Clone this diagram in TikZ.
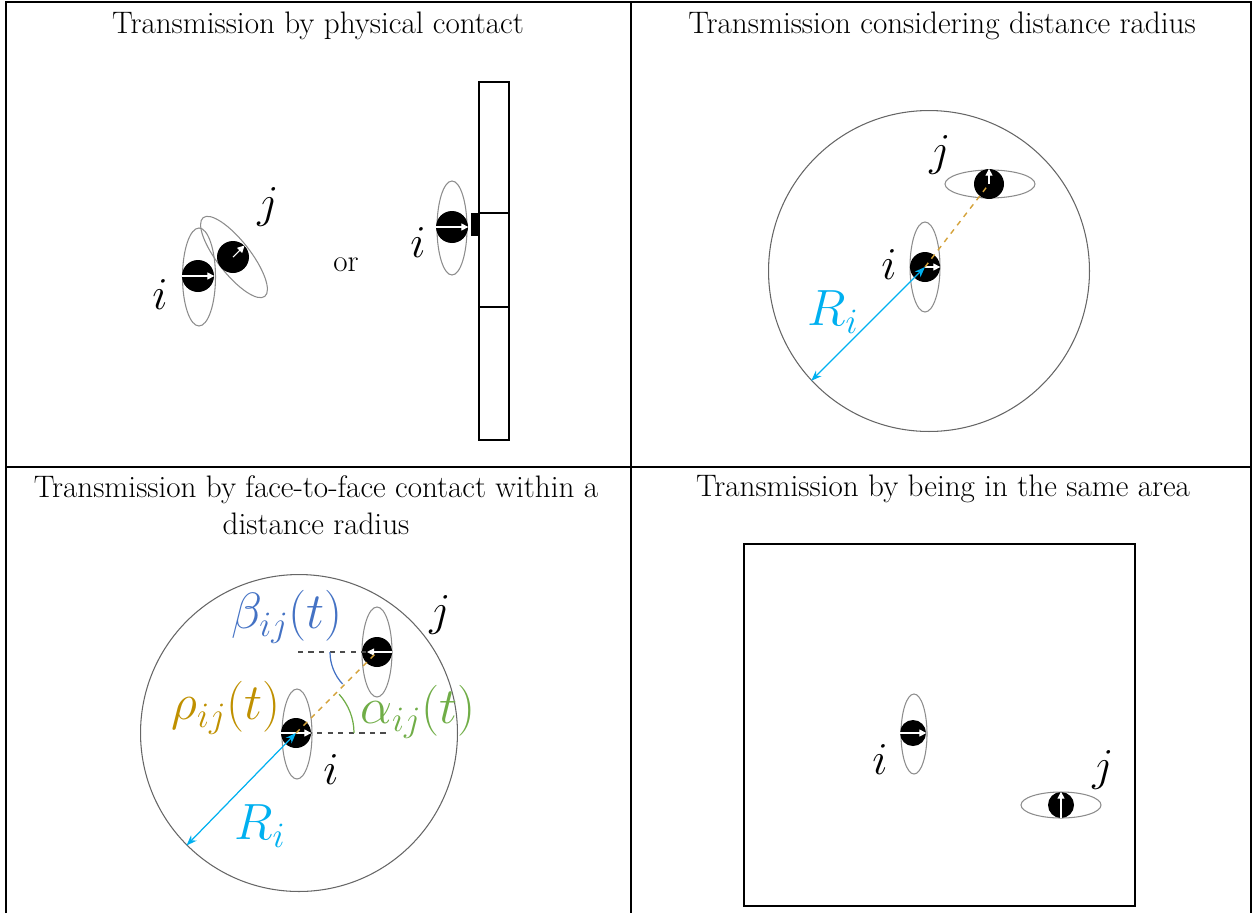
\RequirePackage{fix-cm}
\documentclass[tikz,border=0pt]{standalone}
\usepackage{amsmath}
\usepackage{tikz}
\usetikzlibrary{arrows.meta, shapes.geometric, positioning, calc}
\definecolor{radcyan}{HTML}{00B0F0}
\definecolor{linkgold}{HTML}{D4A23A}
\definecolor{betablue}{HTML}{4472C4}
\definecolor{alphagreen}{HTML}{70AD47}
\definecolor{rhogold}{HTML}{BF9000}
\tikzset{
  panelrule/.style={line width=1.6pt, black},
  paneltitle/.style={font=\fontsize{17.7}{21}\selectfont, align=center, inner sep=0pt},
  fov/.style={
    ellipse, draw=gray!90, line width=0.6pt,
    minimum width=#1, inner sep=0pt
  },
  body/.style={
    circle, fill=black, minimum size=#1, inner sep=0pt
  },
  heading/.style={draw=white, line width=0.6pt, -{Triangle[length=4pt,width=4pt]}},
  agentlabel/.style={font=\fontsize{26}{30}\selectfont, inner sep=0pt},
  anglelabel/.style={font=\fontsize{29}{33}\selectfont, inner sep=0pt},
  zone/.style={circle, draw=gray!80!black, line width=0.6pt, inner sep=0pt},
  radiusline/.style={radcyan, line width=0.7pt, {Stealth[length=6pt]}-{Stealth[length=6pt]}},
  link/.style={linkgold, dashed, line width=0.8pt},
  refline/.style={gray!60!black, dashed, line width=0.7pt},
}

\begin{document}
\begin{tikzpicture}[x=0.02cm, y=-0.02cm]
  \useasboundingbox (0,0) rectangle (1253,913);

  % table
  \coordinate (tl) at (6,2);
  \coordinate (tr) at (1251,2);
  \coordinate (ml) at (6,467);
  \coordinate (mr) at (1251,467);
  \coordinate (tm) at (631,2);
  \coordinate (bm) at (631,913);
  \coordinate (bl) at (6,913);
  \coordinate (br) at (1251,913);
  \draw[panelrule] (bl) -- (tl) -- (tr) -- (br);
  \draw[panelrule] (ml) -- (mr);
  \draw[panelrule] (tm) -- (bm);

  \node[paneltitle] (title1) at (318,26) {Transmission by physical contact};
  \node[paneltitle] (title2) at (942,26) {Transmission considering distance radius};
  \node[paneltitle] (title3) at (316,505) {Transmission by face-to-face contact within a\\distance radius};
  \node[paneltitle] (title4) at (943,489) {Transmission by being in the same area};

  % panel 1: physical contact
  \node[fov, minimum width=0.66cm, minimum height=1.96cm] (fovA) at (199,277) {};
  \node[fov, minimum width=0.66cm, minimum height=2.0cm, rotate=38] (fovB) at (234,257) {};
  \node[body=0.64cm] (iA) at (198,276) {};
  \node[body=0.64cm] (jA) at (233,257) {};
  \draw[heading] (iA.west) -- (iA.east);
  \draw[heading] (jA.center) -- (jA.45);
  \node[agentlabel] (liA) at (160,295) {$i$};
  \node[agentlabel] (ljA) at (268,207) {$j$};
  \node[font=\fontsize{17.7}{21}\selectfont] (or) at (346,265) {or};

  \node[draw, line width=0.7pt, minimum width=0.6cm, minimum height=7.16cm, inner sep=0pt] (wall) at (494,261) {};
  \draw[line width=0.7pt] ($(wall.west)+(0,-48)$) -- ($(wall.east)+(0,-48)$);
  \draw[line width=0.7pt] ($(wall.west)+(0,46)$) -- ($(wall.east)+(0,46)$);
  \node[fov, minimum width=0.6cm, minimum height=1.88cm] (fovW) at (452,228) {};
  \node[body=0.64cm] (iW) at (452,227) {};
  \draw[heading] (iW.west) -- (iW.east);
  \fill (471,213) rectangle (478,236);
  \node[agentlabel] (liW) at (418,243) {$i$};

  % panel 2: distance radius
  \node[zone, minimum size=6.42cm] (zoneB) at (929,271) {};
  \node[fov, minimum width=0.6cm, minimum height=1.8cm] (fovC) at (925,267) {};
  \node[fov, minimum width=1.8cm, minimum height=0.56cm] (fovD) at (990,184) {};
  \node[body=0.6cm] (iB) at (925,267) {};
  \node[body=0.6cm] (jB) at (989,184) {};
  \draw[heading] (iB.center) -- (iB.east);
  \draw[heading] (jB.center) -- (jB.north);
  \draw[link] (iB.center) -- (jB.center);
  \draw[radiusline] (zoneB.223) -- (iB.center);
  \node[agentlabel] (liB) at (889,265) {$i$};
  \node[agentlabel] (ljB) at (940,155) {$j$};
  \node[anglelabel, radcyan] (RB) at (833,312) {$R_i$};

  % panel 3: face-to-face
  \node[zone, minimum size=6.34cm] (zoneC) at (299,733) {};
  \node[fov, minimum width=0.6cm, minimum height=1.8cm] (fovE) at (297,734) {};
  \node[fov, minimum width=0.6cm, minimum height=1.8cm] (fovF) at (377,652) {};
  \node[body=0.6cm] (iC) at (296,733) {};
  \node[body=0.6cm] (jC) at (377,652) {};
  \coordinate (jref) at (297,652);
  \coordinate (iref) at (386,733);
  \draw[refline] (jC.center) -- (jref);
  \draw[refline] (iC.center) -- (iref);
  \draw[heading] (iC.west) -- (iC.east);
  \draw[heading] (jC.east) -- (367,652);
  \draw[link] (iC.center) -- (jC.center);
  \draw[betablue, line width=0.7pt] ($(jC.center)+(-47,0)$) arc[start angle=180, end angle=137, radius=47];
  \draw[alphagreen, line width=0.7pt] ($(iC.center)+(58,0)$) arc[start angle=0, end angle=-42, radius=58];
  \draw[radiusline] (zoneC.225) -- (iC.center);
  \node[anglelabel, betablue] (beta) at (287,617) {$\beta_{ij}(t)$};
  \node[anglelabel, rhogold] (rho) at (226,708) {$\rho_{ij}(t)$};
  \node[anglelabel, alphagreen] (alpha) at (418,712) {$\alpha_{ij}(t)$};
  \node[agentlabel] (liC) at (331,770) {$i$};
  \node[agentlabel] (ljC) at (440,615) {$j$};
  \node[anglelabel, radcyan] (RC) at (260,826) {$R_i$};

  % panel 4: same area
  \node[draw, line width=0.7pt, minimum width=7.82cm, minimum height=7.24cm, inner sep=0pt] (area) at (939.5,725) {};
  \node[fov, minimum width=0.52cm, minimum height=1.6cm] (fovG) at (914,734) {};
  \node[fov, minimum width=1.6cm, minimum height=0.52cm] (fovH) at (1061,805) {};
  \node[body=0.52cm] (iD) at (913,733) {};
  \node[body=0.52cm] (jD) at (1061,805) {};
  \draw[heading] (iD.west) -- (iD.east);
  \draw[heading] (jD.south) -- (jD.north);
  \node[agentlabel] (liD) at (880,760) {$i$};
  \node[agentlabel] (ljD) at (1103,770) {$j$};
\end{tikzpicture}
\end{document}
